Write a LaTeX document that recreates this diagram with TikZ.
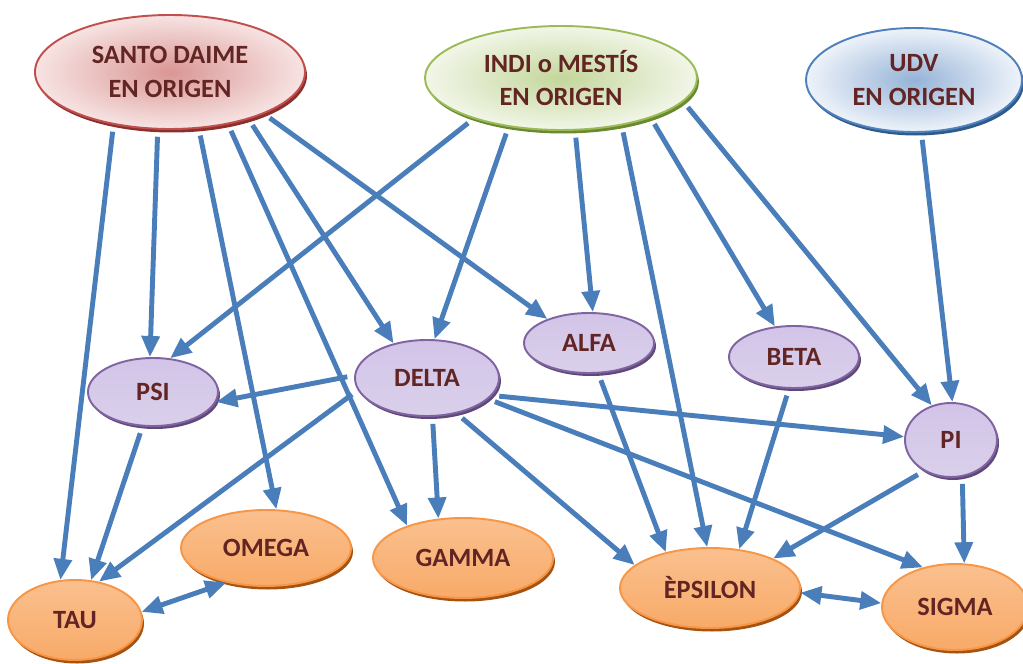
\documentclass[tikz,border=0pt]{standalone}
\usepackage{fontspec}
\setmainfont{Carlito}
\usetikzlibrary{shapes.geometric,arrows.meta,shadows}
\definecolor{txt}{HTML}{632523}
\definecolor{arrowblue}{HTML}{4A7EBB}
\definecolor{redB}{HTML}{C0504D}\definecolor{redS}{HTML}{8C2F2D}
\definecolor{redI}{HTML}{D99694}\definecolor{redO}{HTML}{F7E4E3}
\definecolor{grnB}{HTML}{9BBB59}\definecolor{grnS}{HTML}{6A8A30}
\definecolor{grnI}{HTML}{C3D69B}\definecolor{grnO}{HTML}{F2F6E8}
\definecolor{bluB}{HTML}{4F81BD}\definecolor{bluS}{HTML}{2E5A8C}
\definecolor{bluI}{HTML}{95B3D7}\definecolor{bluO}{HTML}{EEF3FA}
\definecolor{purB}{HTML}{8064A2}\definecolor{purS}{HTML}{5F497A}
\definecolor{purT}{HTML}{D2C4E8}\definecolor{purM}{HTML}{F3EFF9}\definecolor{purBo}{HTML}{DAD0EA}
\definecolor{orB}{HTML}{F79646}\definecolor{orS}{HTML}{A65210}
\definecolor{orT}{HTML}{FAC08F}\definecolor{orM}{HTML}{F79646}\definecolor{orBo}{HTML}{F8AA68}
\tikzset{
  base/.style={ellipse, inner sep=0pt, align=center, text=txt,
    font=\fontsize{15}{19}\selectfont\bfseries, line width=1.1pt},
  origred/.style={base, draw=redB, inner color=redI, outer color=redO,
    drop shadow={shadow xshift=0.04cm, shadow yshift=-0.07cm, fill=redS, opacity=1}},
  origgrn/.style={base, draw=grnB, inner color=grnI, outer color=grnO,
    drop shadow={shadow xshift=0.04cm, shadow yshift=-0.07cm, fill=grnS, opacity=1}},
  origblu/.style={base, draw=bluB, inner color=bluI, outer color=bluO,
    drop shadow={shadow xshift=0.04cm, shadow yshift=-0.07cm, fill=bluS, opacity=1}},
  purp/.style={base, draw=purB, top color=purT, middle color=purM, bottom color=purBo,
    drop shadow={shadow xshift=0.04cm, shadow yshift=-0.06cm, fill=purS, opacity=1}},
  oran/.style={base, draw=orB, top color=orT, middle color=orM, bottom color=orBo,
    drop shadow={shadow xshift=0.04cm, shadow yshift=-0.07cm, fill=orS, opacity=1}},
  tip/.tip={Triangle[length=12pt,width=10pt]},
  arr/.style={draw=arrowblue, line width=2.8pt, -tip, shorten <=4pt},
  darr/.style={draw=arrowblue, line width=2.8pt, tip-tip}
}
\begin{document}
\begin{tikzpicture}
\useasboundingbox (0,0) rectangle (20.46,-13.28);
\node[origred, minimum width=5.40cm, minimum height=2.28cm] (santo) at (3.40,-1.44) {SANTO DAIME\\EN ORIGEN};
\node[origgrn, minimum width=5.44cm, minimum height=2.08cm] (indi) at (11.22,-1.56) {INDI o MESTÍS\\EN ORIGEN};
\node[origblu, minimum width=4.32cm, minimum height=2.08cm] (udv) at (18.28,-1.60) {UDV\\EN ORIGEN};
\node[purp, minimum width=2.60cm, minimum height=1.36cm] (psi) at (3.06,-7.84) {PSI};
\node[purp, minimum width=2.88cm, minimum height=1.52cm] (delta) at (8.54,-7.56) {DELTA};
\node[purp, minimum width=2.60cm, minimum height=1.20cm] (alfa) at (11.78,-6.86) {ALFA};
\node[purp, minimum width=2.60cm, minimum height=1.24cm] (beta) at (15.88,-7.14) {BETA};
\node[purp, minimum width=1.84cm, minimum height=1.48cm] (pi) at (19.02,-8.80) {PI};
\node[oran, minimum width=3.40cm, minimum height=1.52cm] (omega) at (5.32,-10.96) {OMEGA};
\node[oran, minimum width=3.60cm, minimum height=1.60cm] (gamma) at (9.26,-11.16) {GAMMA};
\node[oran, minimum width=2.68cm, minimum height=1.60cm] (tau) at (1.50,-12.40) {TAU};
\node[oran, minimum width=3.60cm, minimum height=1.60cm] (epsilon) at (14.20,-11.76) {ÈPSILON};
\node[oran, minimum width=2.92cm, minimum height=1.72cm] (sigma) at (19.10,-12.14) {SIGMA};
% from SANTO DAIME
\draw[arr] (santo.223) -- (tau.110);
\draw[arr] (santo.258) -- (psi.95);
\draw[arr] (santo.297) -- (omega.75);
\draw[arr] (santo.318) -- (gamma.150);
\draw[arr] (santo.329) -- (delta.134);
\draw[arr] (santo.336) -- (alfa.150);
% from INDI
\draw[arr] (indi.205) -- (psi.63);
\draw[arr] (indi.223) -- (delta.79);
\draw[arr] (indi.285) -- (alfa.83);
\draw[arr] (indi.322) -- (epsilon.94);
\draw[arr] (indi.336) -- (beta.122);
\draw[arr] (indi.349) -- (pi.119);
% from UDV
\draw[arr] (udv.278) -- (pi.88);
% from DELTA
\draw[arr] (delta.178) -- (psi.351);
\draw[arr] (delta.190) -- (tau.58);
\draw[arr] (delta.278) -- (gamma.122);
\draw[arr] (delta.310) -- (epsilon.163);
\draw[arr] (delta.345) -- (pi.176);
\draw[arr] (delta.341) -- (sigma.129);
% others
\draw[arr] (psi.253) -- (tau.68);
\draw[arr] (alfa.287) -- (epsilon.141);
\draw[arr] (beta.261) -- (epsilon.53);
\draw[arr] (pi.229) -- (epsilon.25);
\draw[arr] (pi.287) -- (sigma.78);
\draw[darr] (tau.7) -- (omega.221);
\draw[darr] (epsilon.357) -- (sigma.177);
\end{tikzpicture}
\end{document}
